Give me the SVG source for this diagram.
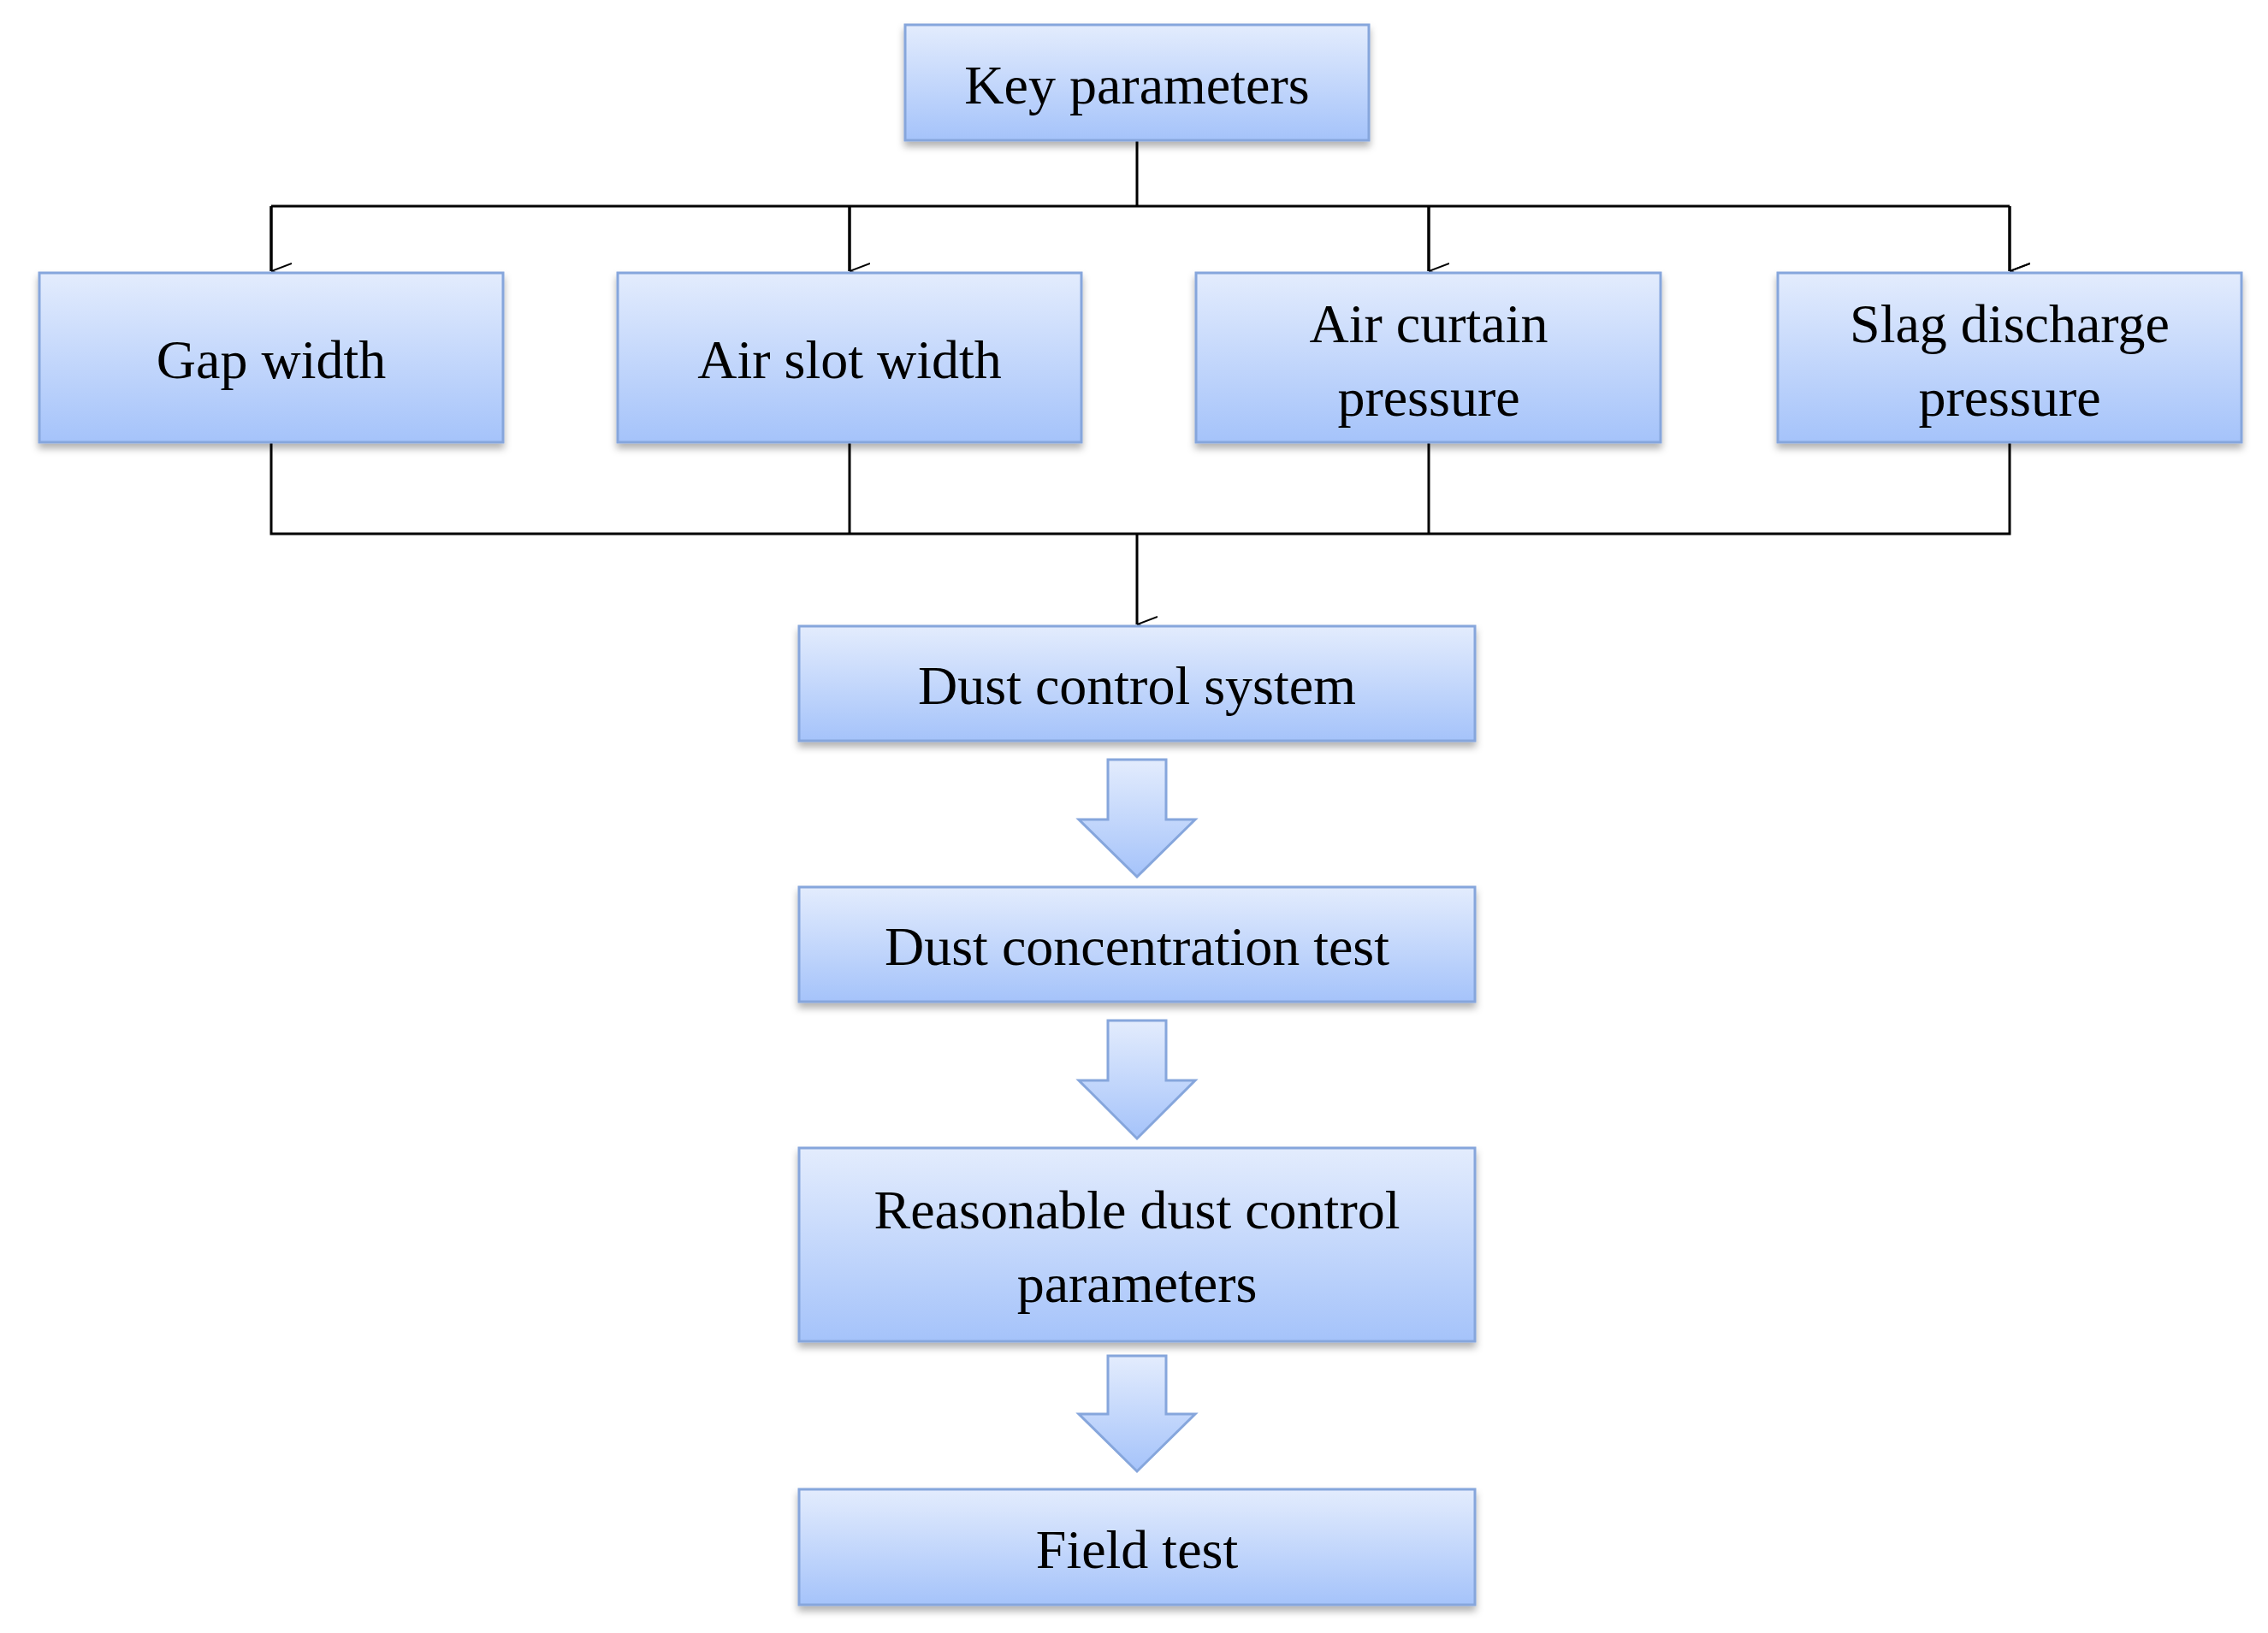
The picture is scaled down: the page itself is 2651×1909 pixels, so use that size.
<svg xmlns="http://www.w3.org/2000/svg" width="2651" height="1909" viewBox="0 0 2651 1909">
<defs>
<linearGradient id="g" x1="0" y1="0" x2="0" y2="1"><stop offset="0" stop-color="#e3ecfd"/><stop offset="1" stop-color="#a5c3fa"/></linearGradient>
<filter id="sh" x="-5%" y="-10%" width="110%" height="130%"><feDropShadow dx="0" dy="6" stdDeviation="4" flood-color="#000" flood-opacity="0.3"/></filter>
<marker id="ah" viewBox="0 0 20 24" refX="10" refY="24" markerWidth="20" markerHeight="24" markerUnits="userSpaceOnUse" orient="auto-start-reverse"><path d="M1,0 L10,24 L19,0" fill="none" stroke="#000" stroke-width="2"/></marker>
</defs>
<style>
.b{fill:url(#g);stroke:#86a6dc;stroke-width:3;filter:url(#sh)}
.t{font-family:"Liberation Serif",serif;font-size:64px;text-anchor:middle;fill:#000}
.c{fill:none;stroke:#000;stroke-width:3}
.ba{fill:url(#g);stroke:#86a6dc;stroke-width:3}
</style>
<rect width="2651" height="1909" fill="#fff"/>
<g id="connectors">
<path class="c" d="M1329,164 V241 M317,241 H2349"/>
<path class="c" d="M317,241 V317 M993,241 V317 M1670,241 V317 M2349,241 V317" marker-end="url(#ah)"/>
<line class="c" x1="317" y1="241" x2="317" y2="317" marker-end="url(#ah)"/>
<line class="c" x1="993" y1="241" x2="993" y2="317" marker-end="url(#ah)"/>
<line class="c" x1="1670" y1="241" x2="1670" y2="317" marker-end="url(#ah)"/>
<line class="c" x1="2349" y1="241" x2="2349" y2="317" marker-end="url(#ah)"/>
<path class="c" d="M317,517 V624 H2349 V517 M993,517 V624 M1670,517 V624"/>
<line class="c" x1="1329" y1="624" x2="1329" y2="730" marker-end="url(#ah)"/>
<path class="ba" d="M1295,888 H1363 V958 H1397 L1329,1025 L1261,958 H1295 Z"/>
<path class="ba" d="M1295,1193 H1363 V1263 H1397 L1329,1331 L1261,1263 H1295 Z"/>
<path class="ba" d="M1295,1585 H1363 V1653 H1397 L1329,1720 L1261,1653 H1295 Z"/>
</g>
<g id="key"><rect class="b" x="1058" y="29" width="542" height="135"/><text class="t" x="1329" y="121">Key parameters</text></g>
<g id="gap"><rect class="b" x="46" y="319" width="542" height="198"/><text class="t" x="317" y="442">Gap width</text></g>
<g id="slot"><rect class="b" x="722" y="319" width="542" height="198"/><text class="t" x="993" y="442">Air slot width</text></g>
<g id="curtain"><rect class="b" x="1398" y="319" width="543" height="198"/><text class="t" x="1670" y="400">Air curtain</text><text class="t" x="1670" y="486">pressure</text></g>
<g id="slag"><rect class="b" x="2078" y="319" width="542" height="198"/><text class="t" x="2349" y="400">Slag discharge</text><text class="t" x="2349" y="486">pressure</text></g>
<g id="dcs"><rect class="b" x="934" y="732" width="790" height="134"/><text class="t" x="1329" y="823">Dust control system</text></g>
<g id="dct"><rect class="b" x="934" y="1037" width="790" height="134"/><text class="t" x="1329" y="1128">Dust concentration test</text></g>
<g id="rdcp"><rect class="b" x="934" y="1342" width="790" height="226"/><text class="t" x="1329" y="1436">Reasonable dust control</text><text class="t" x="1329" y="1522">parameters</text></g>
<g id="field"><rect class="b" x="934" y="1741" width="790" height="135"/><text class="t" x="1329" y="1833">Field test</text></g>
</svg>
